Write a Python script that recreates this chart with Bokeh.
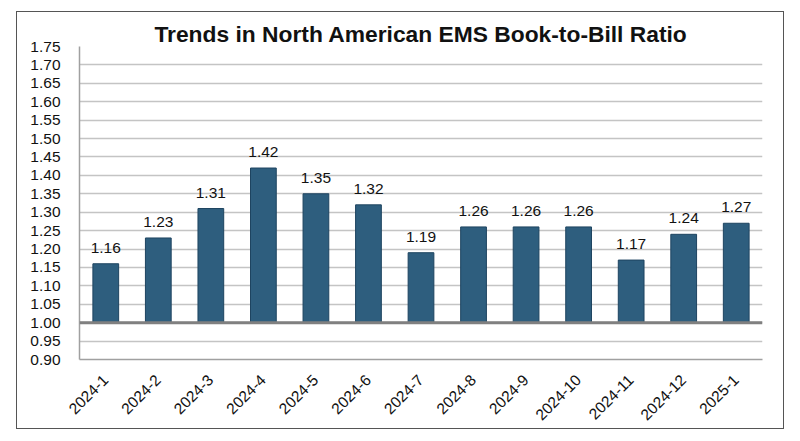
from bokeh.plotting import figure
from bokeh.models import ColumnDataSource, FactorRange, SingleIntervalTicker, Span, LabelSet, NumeralTickFormatter
from bokeh.core.properties import value
from bokeh.embed import file_html
from bokeh.resources import INLINE
import math

months = ["2024-1", "2024-2", "2024-3", "2024-4", "2024-5", "2024-6", "2024-7",
          "2024-8", "2024-9", "2024-10", "2024-11", "2024-12", "2025-1"]
ratios = [1.16, 1.23, 1.31, 1.42, 1.35, 1.32, 1.19, 1.26, 1.26, 1.26, 1.17, 1.24, 1.27]
labels = ["1.16", "1.23", "1.31", "1.42", "1.35", "1.32", "1.19", "1.26", "1.26", "1.26", "1.17", "1.24", "1.27"]
baseline = 1.0
title_text = "Trends in North American EMS Book-to-Bill Ratio"

src = ColumnDataSource(dict(month=months, ratio=ratios, label=labels, base=[baseline] * len(months)))

FONT = "Liberation Sans"

p = figure(x_range=FactorRange(*months, range_padding=0), y_range=(0.90, 1.75),
           width=768, height=418, output_backend="svg", toolbar_location=None,
           min_border_left=62, min_border_right=23, min_border_top=34, min_border_bottom=71)
p.styles = {"border": "1px solid #555555", "margin-left": "16px", "margin-top": "11px"}

p.title.text = title_text
p.title.align = "center"
p.title.text_font = FONT
p.title.text_font_size = "22.8px"
p.title.text_font_style = "bold"
p.title.text_color = "#111111"
p.title.standoff = 0
p.title.offset = 0

p.vbar(x="month", top="ratio", bottom="base", width=0.49, source=src,
       fill_color="#2E5E7E", line_color="#1E4460", line_width=1)

p.add_layout(Span(location=baseline, dimension="width", line_color="#808080", line_width=3))

p.add_layout(LabelSet(x="month", y="ratio", text="label", source=src, text_align="center",
                      text_baseline="alphabetic", y_offset=11, text_font=value(FONT),
                      text_font_size=value("15.5px"), text_color="#111111"))

p.outline_line_color = None
p.background_fill_color = "white"
p.border_fill_color = "white"

p.xgrid.grid_line_color = None
p.ygrid.grid_line_color = "#C4C4C4"
p.ygrid.grid_line_width = 1.5

p.yaxis.ticker = SingleIntervalTicker(interval=0.05)
p.yaxis.formatter = NumeralTickFormatter(format="0.00")
p.yaxis.major_tick_line_color = None
p.yaxis.minor_tick_line_color = None
p.yaxis.axis_line_color = "#A0A0A0"
p.yaxis.axis_line_width = 1.5
p.yaxis.major_label_standoff = 13
p.yaxis.major_label_text_font = FONT
p.yaxis.major_label_text_font_size = "15.5px"
p.yaxis.major_label_text_color = "#111111"

p.xaxis.major_tick_line_color = None
p.xaxis.minor_tick_line_color = None
p.xaxis.axis_line_color = "#A0A0A0"
p.xaxis.axis_line_width = 1.5
p.xaxis.major_label_orientation = math.pi / 4
p.xaxis.major_label_standoff = 12
p.xaxis.major_label_text_font = FONT
p.xaxis.major_label_text_font_size = "15.5px"
p.xaxis.major_label_text_color = "#111111"

open("out.html", "w").write(file_html(p, INLINE))
